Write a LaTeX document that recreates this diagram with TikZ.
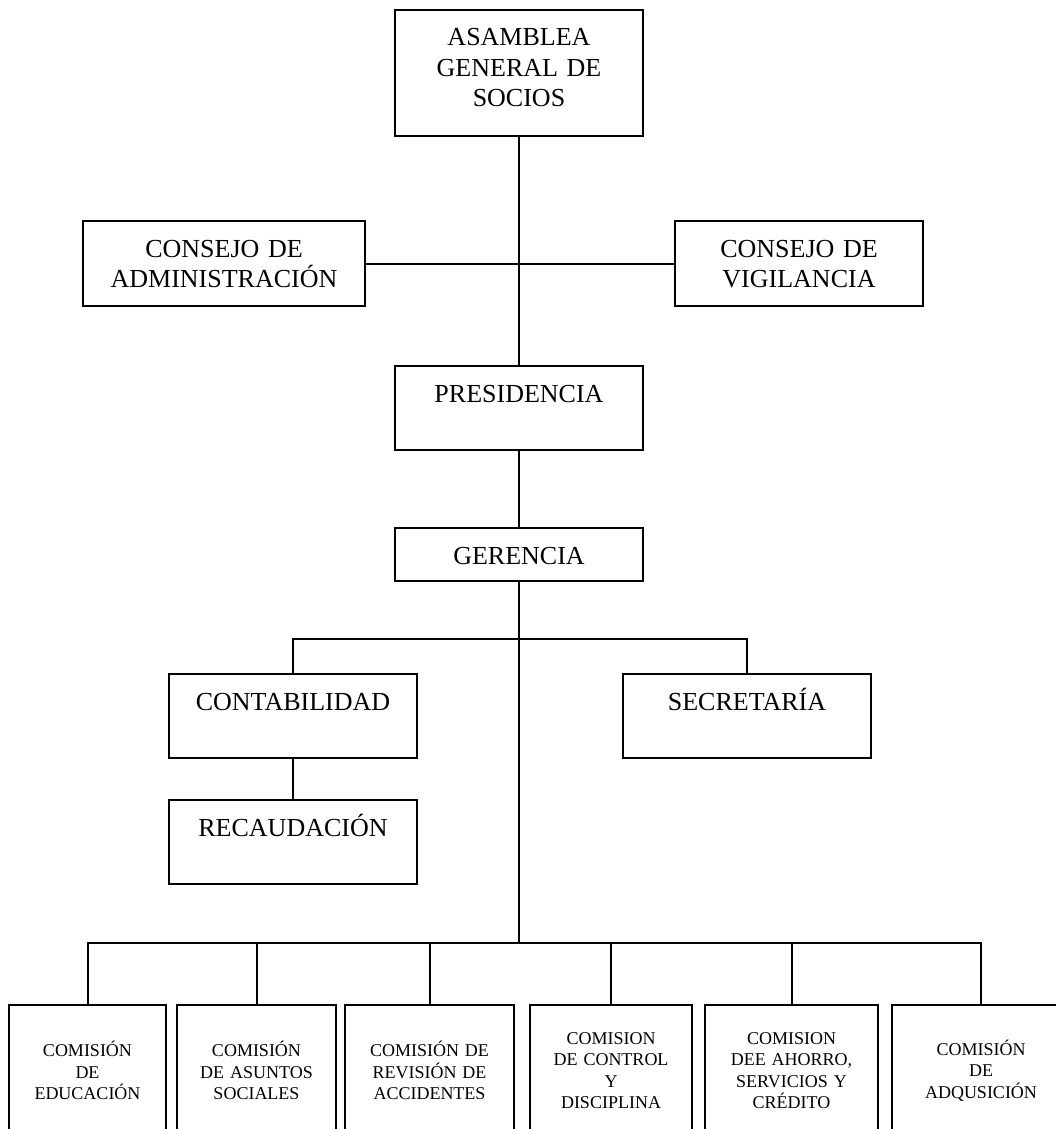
\documentclass[tikz,border=0pt]{standalone}
\usepackage{fontspec}
\setmainfont{Liberation Serif}
\usetikzlibrary{positioning}
\tikzset{
  box/.style ={draw,line width=2pt,inner sep=0pt,align=center,
               text width=248pt,text height=36pt,text depth=48pt,
               font=\fontsize{26}{30.5}\selectfont},
  com/.style ={draw,line width=2pt,inner sep=0pt,align=center,
               anchor=north west,minimum height=131pt,
               font=\fontsize{18}{21.5}\selectfont},
  link/.style={line width=2pt},
}
\begin{document}
\begin{tikzpicture}[x=1pt,y=-1pt]
  \clip (0,0) rectangle (1056,1129);

  \node[box,text depth=90pt,anchor=north] (asam) at (519,9)
    {ASAMBLEA\\GENERAL DE\\SOCIOS};
  \node[box,text width=282pt,text depth=49pt,anchor=north west] (adm) at (82,220)
    {CONSEJO DE\\ADMINISTRACIÓN};
  \node[box,text depth=49pt,anchor=north west] (vig) at (674,220)
    {CONSEJO DE\\VIGILANCIA};
  \node[box,below=228pt of asam] (pres) {PRESIDENCIA};
  \node[box,text depth=17pt,below=76pt of pres] (ger) {GERENCIA};

  \node[box,anchor=north west] (cont) at (168,673) {CONTABILIDAD};
  \node[box,anchor=north west] (secr) at (622,673) {SECRETARÍA};
  \node[box,below=40pt of cont] (rec) {RECAUDACIÓN};

  % comisiones
  \node[com,text width=157pt] (com1) at (8,1004) {COMISIÓN\\DE\\EDUCACIÓN};
  \node[com,text width=159pt] (com2) at (176,1004) {COMISIÓN\\DE ASUNTOS\\SOCIALES};
  \node[com,text width=169pt] (com3) at (344,1004) {COMISIÓN DE\\REVISIÓN DE\\ACCIDENTES};
  \node[com,text width=162pt] (com4) at (529,1004) {COMISION\\DE CONTROL\\Y\\DISCIPLINA};
  \node[com,text width=173pt] (com5) at (704,1004) {COMISION\\DEE AHORRO,\\SERVICIOS Y\\CRÉDITO};
  \node[com,text width=178pt] (com6) at (891,1004) {COMISIÓN\\DE\\ADQUSICIÓN};

  \coordinate (fork) at (519,639);
  \coordinate (bus) at (519,943);

  \draw[link] (asam) -- (pres);
  \draw[link] (adm) -- (vig);
  \draw[link] (pres) -- (ger);
  \draw[link] (ger) -- (bus);
  \draw[link] (cont) |- (fork) -| (secr);
  \draw[link] (cont) -- (rec);
  \foreach \n in {1,...,6}
    \draw[link] (bus) -| (com\n);
\end{tikzpicture}
\end{document}
